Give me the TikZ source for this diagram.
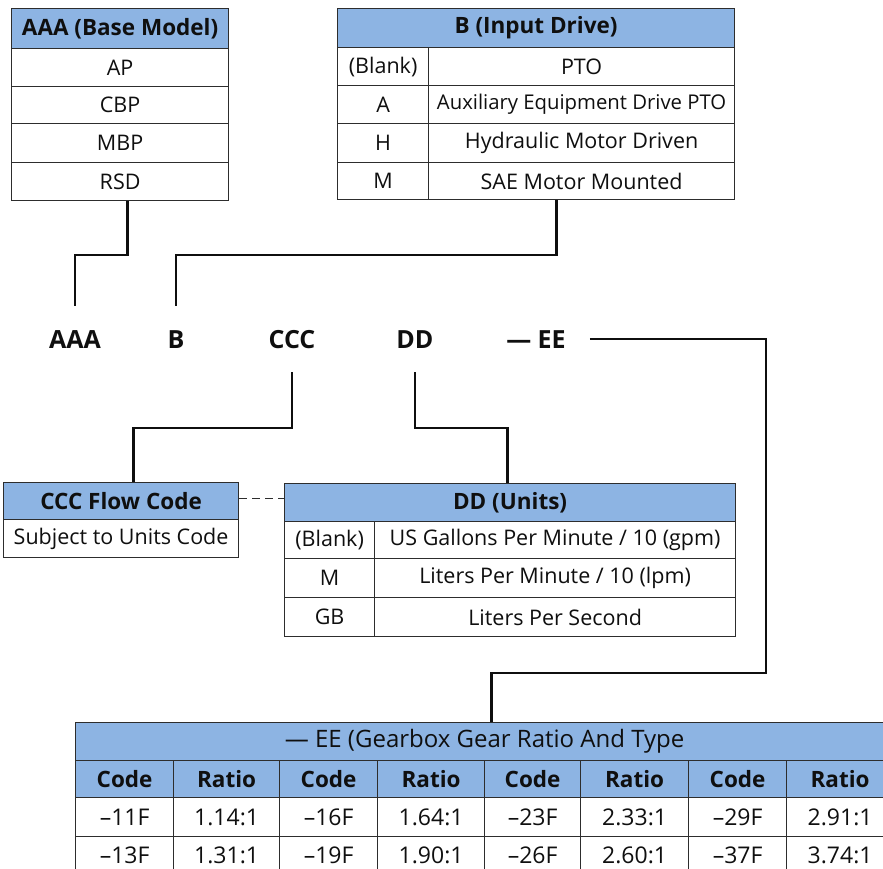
\documentclass[tikz,border=0pt]{standalone}
\usepackage{fontspec}
\setmainfont{Open Sans}
\definecolor{hdr}{RGB}{141,180,227}
\definecolor{ink}{RGB}{15,15,15}
\definecolor{rule}{RGB}{45,45,45}
\begin{document}
\begin{tikzpicture}[x=1pt,y=-1pt,
  cell/.style={draw=rule, line width=1.2pt, fill=white, inner sep=0pt, text=ink,
    font=\fontsize{21.5}{24}\selectfont, anchor=north west},
  hcell/.style={cell, fill=hdr, font=\fontsize{22.5}{25}\selectfont\bfseries},
  bcell/.style={cell, font=\fontsize{23}{25}\selectfont},
  bhcell/.style={cell, fill=hdr, font=\fontsize{22.5}{25}\selectfont\bfseries},
  tcell/.style={cell, fill=hdr, font=\fontsize{24}{26}\selectfont},
  wh/.style 2 args={minimum width=#1pt, minimum height=#2pt},
  conn/.style={line width=2.4pt, draw=ink},
  lab/.style={font=\fontsize{25}{28}\selectfont\bfseries, text=ink, inner sep=0pt,
    text height=18pt, text depth=0pt, anchor=base, outer sep=24pt}]
\useasboundingbox (0,0) rectangle (883,869);
\clip (0,0) rectangle (883,869);
\fill[white] (0,0) rectangle (883,869);

% AAA table
\node[hcell, wh={217}{40}] (aaah) at (11,8) {AAA (Base Model)};
\node[cell, wh={217}{38}] (aaa1) at (11,48) {AP};
\node[cell, wh={217}{37}] (aaa2) at (11,86) {CBP};
\node[cell, wh={217}{39}] (aaa3) at (11,123) {MBP};
\node[cell, wh={217}{38}] (aaa4) at (11,162) {RSD};

% B table
\node[hcell, wh={397}{39}] (bh) at (337,8) {B (Input Drive)};
\node[cell, wh={91}{38}] (b1a) at (337,47) {(Blank)};
\node[cell, wh={306}{38}] (b1b) at (428,47) {PTO};
\node[cell, wh={91}{38}] (b2a) at (337,85) {A};
\node[cell, wh={306}{38}, font=\fontsize{20.3}{24}\selectfont] (b2b) at (428,85) {Auxiliary Equipment Drive PTO};
\node[cell, wh={91}{39}] (b3a) at (337,123) {H};
\node[cell, wh={306}{39}] (b3b) at (428,123) {Hydraulic Motor Driven};
\node[cell, wh={91}{37}] (b4a) at (337,162) {M};
\node[cell, wh={306}{37}] (b4b) at (428,162) {SAE Motor Mounted};

% code labels
\node[lab] (labA) at (75,348) {AAA};
\node[lab] (labB) at (176,348) {B};
\node[lab] (labC) at (292,348) {CCC};
\node[lab] (labD) at (415,348) {DD};
\node[lab] (labE) at (536,348) {— EE};

% CCC table
\node[hcell, wh={235}{37}] (ccch) at (3,482) {CCC Flow Code};
\node[cell, wh={235}{38}] (ccc1) at (3,519) {Subject to Units Code};

% DD table
\node[hcell, wh={451}{38}] (ddh) at (284,483) {DD (Units)};
\node[cell, wh={90}{37}] (dd1a) at (284,521) {(Blank)};
\node[cell, wh={361}{37}] (dd1b) at (374,521) {US Gallons Per Minute / 10 (gpm)};
\node[cell, wh={90}{39}] (dd2a) at (284,558) {M};
\node[cell, wh={361}{39}] (dd2b) at (374,558) {Liters Per Minute / 10 (lpm)};
\node[cell, wh={90}{39}] (dd3a) at (284,597) {GB};
\node[cell, wh={361}{39}] (dd3b) at (374,597) {Liters Per Second};

% EE table
\node[tcell, wh={818}{38}] (eeh) at (75,722) {— EE (Gearbox Gear Ratio And Type};
\foreach \x/\w/\t [count=\i] in {75/98/Code,173/106/Ratio,279/98/Code,377/107/Ratio,484/96/Code,580/108/Ratio,688/98/Code,786/107/Ratio}
  \node[bhcell, wh={\w}{37}] (ee0\i) at (\x,760) {\t};
\foreach \x/\w/\t [count=\i] in {75/98/–11F,173/106/1.14:1,279/98/–16F,377/107/1.64:1,484/96/–23F,580/108/2.33:1,688/98/–29F,786/107/2.91:1}
  \node[bcell, wh={\w}{39}] (ee1\i) at (\x,797) {\t};
\foreach \x/\w/\t [count=\i] in {75/98/–13F,173/106/1.31:1,279/98/–19F,377/107/1.90:1,484/96/–26F,580/108/2.60:1,688/98/–37F,786/107/3.74:1}
  \node[bcell, wh={\w}{38}] (ee2\i) at (\x,836) {\t};

% connectors
\coordinate (eeturn) at (766,673);
\draw[conn] ([xshift=7.5pt]aaa4.south) -- ++(0,54) -| (labA.north);
\draw[conn] ([xshift=-25pt]b4b.south) -- ++(0,55) -| (labB.north);
\draw[conn] (labC.south) -- ++(0,56) -| ([xshift=12.5pt]ccch.north);
\draw[conn] (labD.south) -- ++(0,56) -| ([xshift=-2.5pt]ddh.north);
\draw[conn] (labE.east) -| (eeturn) -| ([xshift=7pt]eeh.north);
\draw[rule, line width=1.2pt, dash pattern=on 8pt off 5pt] ([yshift=3pt]ccch.east) -- ([yshift=3pt]ddh.west |- ccch.east);
\end{tikzpicture}
\end{document}
